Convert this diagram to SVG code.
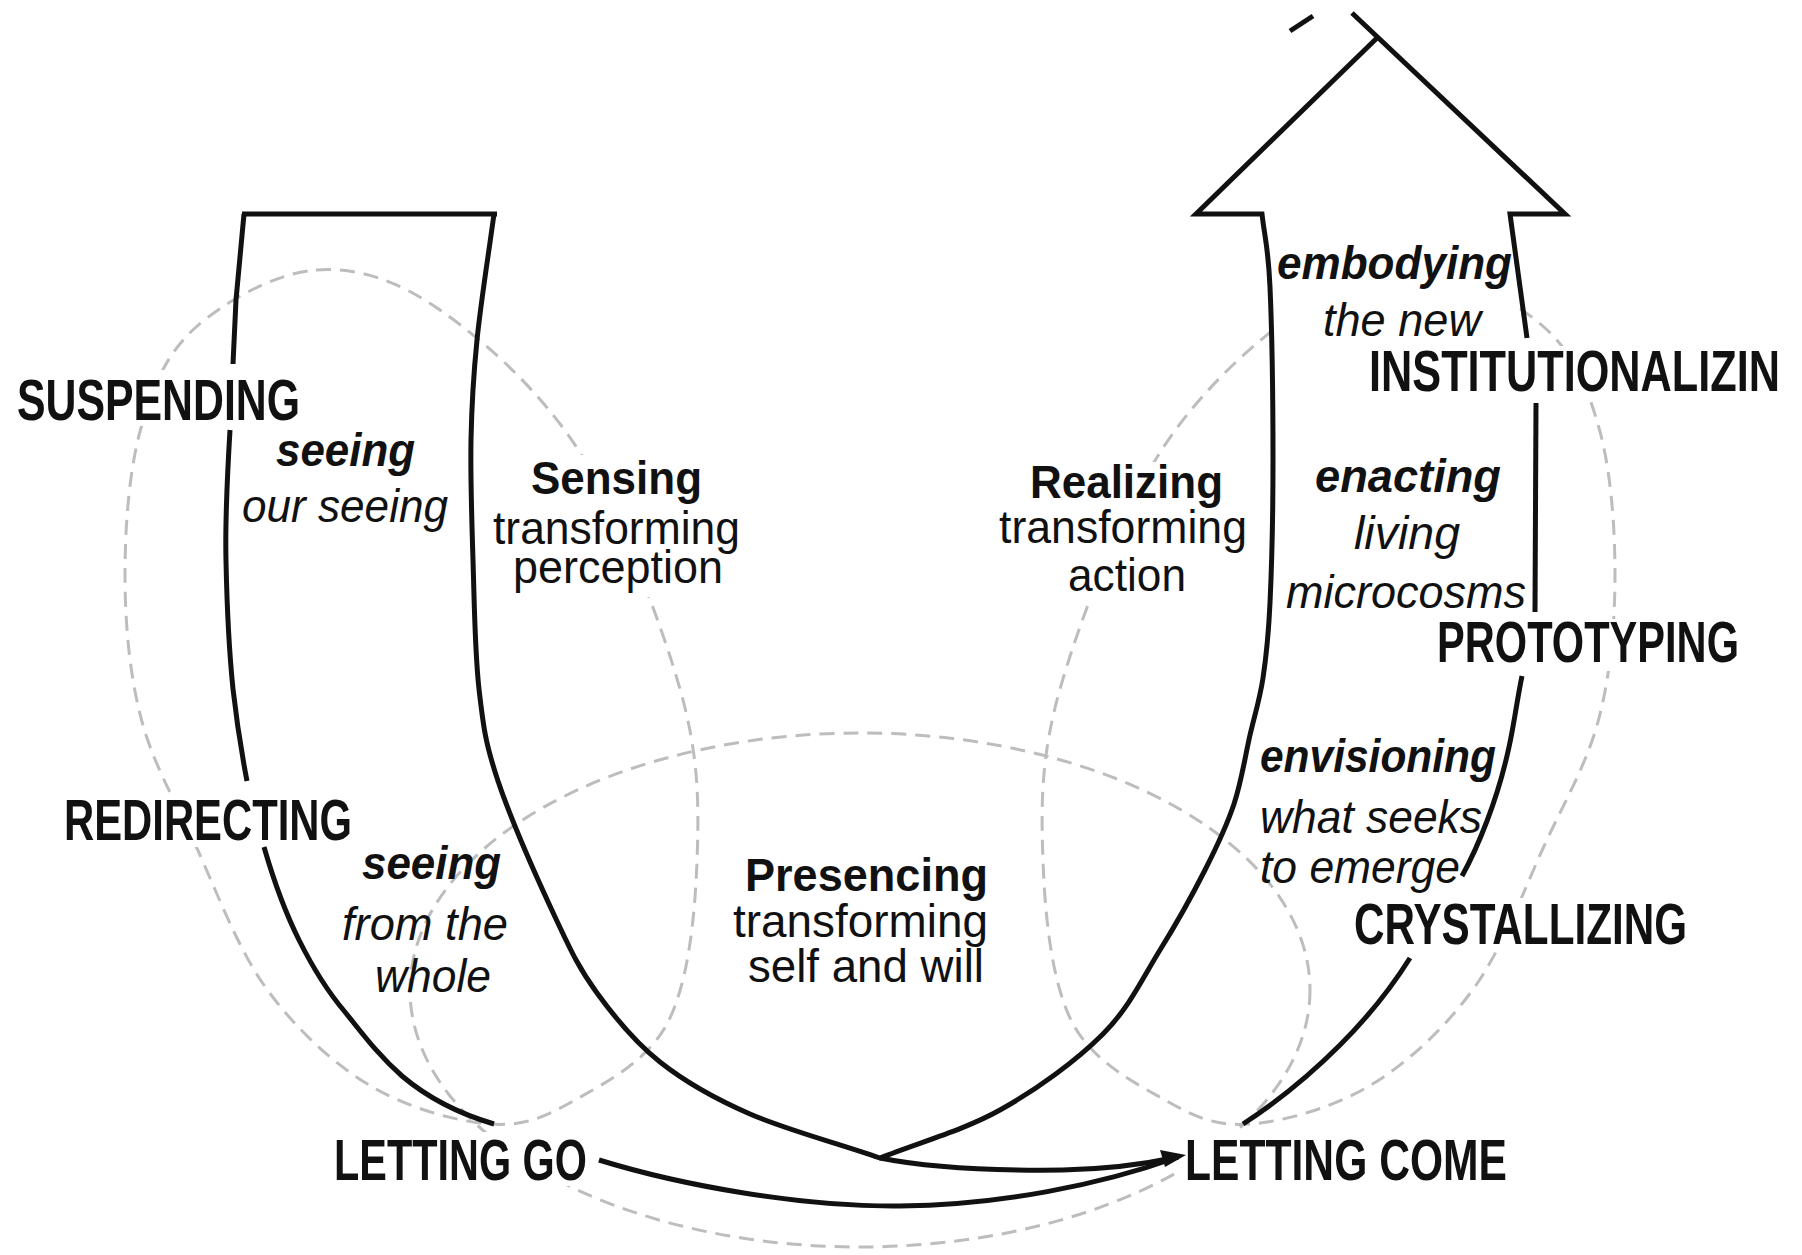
<svg xmlns="http://www.w3.org/2000/svg" xmlns:xlink="http://www.w3.org/1999/xlink" width="1802" height="1255" viewBox="0 0 1802 1255">
<style>
text{fill:#111;font-family:"Liberation Sans Narrow","Arial Narrow","Liberation Sans",Arial,sans-serif;}
.cap{font-size:58px;font-weight:bold;}
.b{font-size:46px;font-weight:bold;}
.r{font-size:46px;}
.bi{font-size:46px;font-weight:bold;font-style:italic;}
.i{font-size:46px;font-style:italic;}
.dash{fill:none;stroke:#bdbdbd;stroke-width:3;stroke-dasharray:15 9;}
.ln{fill:none;stroke:#111;stroke-width:5;stroke-linecap:butt;stroke-linejoin:miter;}
.mask{fill:#fff;}
</style>
<defs>
<path id="loopA" d="M316,270 C356.8,267 395.8,279.3 440,310 C484.2,340.7 541,390.8 581,454 C621,517.2 660.7,621.2 680,689 C699.3,756.8 699,805.5 697,861 C695,916.5 688.3,982.2 668,1022 C647.7,1061.8 604.7,1083 575,1100 C545.3,1117 524.3,1126.5 490,1124 C455.7,1121.5 406.3,1107.7 369,1085 C331.7,1062.3 295,1028.2 266,988 C237,947.8 215.8,889 195,844 C174.2,799 152.7,763 141,718 C129.3,673 125,622.3 125,574 C125,525.7 129.3,469 141,428 C152.7,387 165.8,354.3 195,328 C224.2,301.7 275.2,273 316,270 Z"/>
</defs>
<rect width="1802" height="1255" fill="#fff"/>
<g id="dashed-circles">
<use xlink:href="#loopA" class="dash"/>
<use xlink:href="#loopA" class="dash" transform="translate(1740,0) scale(-1,1)"/>
<ellipse class="dash" cx="860" cy="990" rx="450" ry="257"/>
</g>
<g id="label-masks">
<rect class="mask" x="12" y="370" width="293" height="56"/>
<rect class="mask" x="58" y="793" width="299" height="54"/>
<rect class="mask" x="488" y="455" width="257" height="142"/>
<rect class="mask" x="995" y="462" width="260" height="136"/>
<rect class="mask" x="1272" y="244" width="242" height="97"/>
<rect class="mask" x="1364" y="346" width="438" height="52"/>
<rect class="mask" x="1432" y="619" width="314" height="52"/>
<rect class="mask" x="1349" y="898" width="346" height="53"/>
<rect class="mask" x="328" y="1132" width="264" height="54"/>
<rect class="mask" x="1181" y="1132" width="334" height="54"/>
</g>
<g id="connectors">
<path class="ln" d="M242,214 L497,214" stroke-width="7"/>
<path class="ln" d="M244,214 L236,300 L233,364"/>
<path class="ln" d="M230,430 C227,480 225,520 226,561 C227,610 229,650 233,689 C237,725 242,755 247,781"/>
<path class="ln" d="M264,847 C275,885 285,912 299,940 C313,968 328,992 345,1012 C362,1033 378,1055 402,1076 C428,1098 460,1114 494,1124"/>
<path class="ln" d="M494,214 C488.3,256 480.8,302.3 477,340 C473.2,377.7 471.7,403.3 471,440 C470.3,476.7 471.7,518.5 473,560 C474.3,601.5 474.8,652.2 479,689 C483.2,725.8 485.2,742.7 498,781 C510.8,819.3 539.5,883.7 556,919 C572.5,954.3 579.7,969.2 597,993 C614.3,1016.8 634.5,1041.8 660,1062 C685.5,1082.2 713.3,1098 750,1114 C786.7,1130 837,1143 880,1158 C920,1142 962.8,1130.7 1000,1110 C1037.2,1089.3 1076.3,1060.7 1103,1034 C1129.7,1007.3 1143,977.3 1160,950 C1177,922.7 1192.7,894.3 1205,870 C1217.3,845.7 1226.5,826.5 1234,804 C1241.5,781.5 1245.2,756 1250,735 C1254.8,714 1259.7,700 1263,678 C1266.3,656 1268.3,639.3 1270,603 C1271.7,566.7 1273,512.7 1273,460 C1273,407.3 1271.8,328 1270,287 C1268.2,246 1264.7,238.3 1262,214 L1196,214 L1378,37"/>
<path class="ln" d="M1352,13 L1565,214 L1510,214 L1527,338"/>
<path class="ln" d="M1290,31 L1313,16"/>
<path class="ln" d="M1536,403 L1535,612"/>
<path class="ln" d="M1522,676 C1517,700 1514,725 1509,747 C1503,775 1495,800 1487,821 C1479,842 1472,858 1462,876"/>
<path class="ln" d="M1410,958 C1390,990 1365,1020 1340,1045 C1310,1075 1280,1100 1243,1124"/>
<path class="ln" d="M880,1158 C920,1166 980,1171 1063,1170 C1110,1169 1150,1163 1178,1157"/>
<path class="ln" d="M599,1160 C680,1185 800,1207 900,1206 C1000,1205 1100,1185 1178,1157"/>
<path d="M1186,1155 L1160,1150 L1165,1167 Z" fill="#111"/>
</g>
<g id="node-suspending"><text class="cap" x="17" y="420" textLength="283" lengthAdjust="spacingAndGlyphs">SUSPENDING</text></g>
<g id="node-redirecting"><text class="cap" x="64" y="840" textLength="288" lengthAdjust="spacingAndGlyphs">REDIRECTING</text></g>
<g id="node-letting-go"><text class="cap" x="334" y="1180" textLength="253" lengthAdjust="spacingAndGlyphs">LETTING GO</text></g>
<g id="node-letting-come"><text class="cap" x="1185" y="1180" textLength="322" lengthAdjust="spacingAndGlyphs">LETTING COME</text></g>
<g id="node-crystallizing"><text class="cap" x="1354" y="944" textLength="333" lengthAdjust="spacingAndGlyphs">CRYSTALLIZING</text></g>
<g id="node-prototyping"><text class="cap" x="1437" y="662" textLength="302" lengthAdjust="spacingAndGlyphs">PROTOTYPING</text></g>
<g id="node-institutionalizing"><text class="cap" x="1369" y="391" textLength="411" lengthAdjust="spacingAndGlyphs">INSTITUTIONALIZIN</text></g>
<g id="node-sensing">
<text class="b" x="531" y="494" textLength="171" lengthAdjust="spacingAndGlyphs">Sensing</text>
<text class="r" x="493" y="544" textLength="247" lengthAdjust="spacingAndGlyphs">transforming</text>
<text class="r" x="513" y="583" textLength="210" lengthAdjust="spacingAndGlyphs">perception</text>
</g>
<g id="node-presencing">
<text class="b" x="745" y="891" textLength="243" lengthAdjust="spacingAndGlyphs">Presencing</text>
<text class="r" x="733" y="937" textLength="255" lengthAdjust="spacingAndGlyphs">transforming</text>
<text class="r" x="748" y="982" textLength="236" lengthAdjust="spacingAndGlyphs">self and will</text>
</g>
<g id="node-realizing">
<text class="b" x="1030" y="498" textLength="193" lengthAdjust="spacingAndGlyphs">Realizing</text>
<text class="r" x="999" y="543" textLength="248" lengthAdjust="spacingAndGlyphs">transforming</text>
<text class="r" x="1068" y="591" textLength="118" lengthAdjust="spacingAndGlyphs">action</text>
</g>
<g id="node-seeing-our-seeing">
<text class="bi" x="276" y="466" textLength="139" lengthAdjust="spacingAndGlyphs">seeing</text>
<text class="i" x="242" y="522" textLength="206" lengthAdjust="spacingAndGlyphs">our seeing</text>
</g>
<g id="node-seeing-from-the-whole">
<text class="bi" x="362" y="879" textLength="139" lengthAdjust="spacingAndGlyphs">seeing</text>
<text class="i" x="342" y="940" textLength="166" lengthAdjust="spacingAndGlyphs">from the</text>
<text class="i" x="375" y="992" textLength="116" lengthAdjust="spacingAndGlyphs">whole</text>
</g>
<g id="node-embodying">
<text class="bi" x="1277" y="279" textLength="235" lengthAdjust="spacingAndGlyphs">embodying</text>
<text class="i" x="1323" y="336" textLength="158" lengthAdjust="spacingAndGlyphs">the new</text>
</g>
<g id="node-enacting">
<text class="bi" x="1315" y="492" textLength="186" lengthAdjust="spacingAndGlyphs">enacting</text>
<text class="i" x="1354" y="549" textLength="106" lengthAdjust="spacingAndGlyphs">living</text>
<text class="i" x="1286" y="608" textLength="240" lengthAdjust="spacingAndGlyphs">microcosms</text>
</g>
<g id="node-envisioning">
<text class="bi" x="1260" y="772" textLength="236" lengthAdjust="spacingAndGlyphs">envisioning</text>
<text class="i" x="1260" y="833" textLength="222" lengthAdjust="spacingAndGlyphs">what seeks</text>
<text class="i" x="1260" y="883" textLength="200" lengthAdjust="spacingAndGlyphs">to emerge</text>
</g>
</svg>
